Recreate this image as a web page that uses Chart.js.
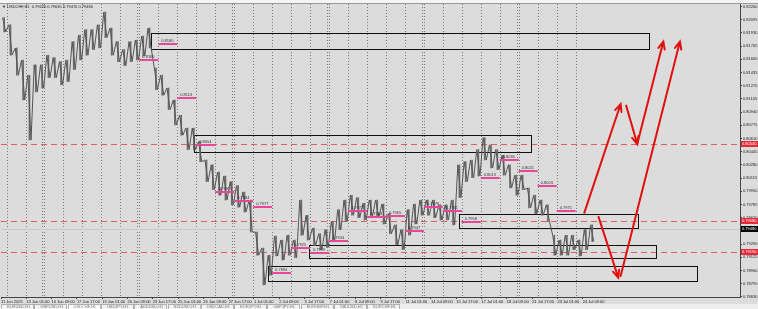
<!DOCTYPE html>
<html>
<head>
<meta charset="utf-8">
<script src="https://cdn.jsdelivr.net/npm/chart.js@4.4.1/dist/chart.umd.min.js"></script>
<style>
html, body { margin: 0; padding: 0; background: #dcdcdc; overflow: hidden; }
canvas { display: block; }
</style>
</head>
<body>
<canvas id="usdchfChart" width="758" height="309"></canvas>
<script>
// USDCHF H1 - price band, one high/low pair per 8 bars
var segHigh = [
  0.8212, 0.8203, 0.8174, 0.8159, 0.8140, 0.8153, 0.8153, 0.8165, 0.8162, 0.8157,
  0.8159, 0.8182, 0.8190, 0.8197, 0.8197, 0.8203, 0.8219, 0.8199, 0.8182, 0.8172,
  0.8182, 0.8184, 0.8189, 0.8199, 0.8149, 0.8140, 0.8124, 0.8109, 0.8090, 0.8074,
  0.8074, 0.8057, 0.8034, 0.8028, 0.8019, 0.8014, 0.8007, 0.8002, 0.7994, 0.7984,
  0.7944, 0.7924, 0.7915, 0.7939, 0.7934, 0.7940, 0.7934, 0.7984, 0.7965, 0.7949,
  0.7942, 0.7947, 0.7957, 0.7972, 0.7984, 0.7990, 0.7987, 0.7980, 0.7984, 0.7984,
  0.7979, 0.7967, 0.7953, 0.7947, 0.7972, 0.7979, 0.7984, 0.7984, 0.7984, 0.7978,
  0.7978, 0.7984, 0.8028, 0.8032, 0.8034, 0.8047, 0.8062, 0.8053, 0.8047, 0.8040,
  0.8028, 0.8015, 0.8015, 0.7999, 0.7990, 0.7984, 0.7978, 0.7940, 0.7934, 0.7940,
  0.7940, 0.7934, 0.7947, 0.7953
];
var segLow = [
  0.8194, 0.8165, 0.8140, 0.8109, 0.8059, 0.8119, 0.8124, 0.8137, 0.8137, 0.8128,
  0.8132, 0.8147, 0.8159, 0.8165, 0.8172, 0.8174, 0.8187, 0.8165, 0.8157, 0.8152,
  0.8157, 0.8159, 0.8164, 0.8174, 0.8122, 0.8115, 0.8097, 0.8078, 0.8065, 0.8047,
  0.8047, 0.8032, 0.8007, 0.7997, 0.7990, 0.7984, 0.7978, 0.7975, 0.7969, 0.7944,
  0.7915, 0.7878, 0.7890, 0.7914, 0.7909, 0.7915, 0.7912, 0.7940, 0.7934, 0.7927,
  0.7922, 0.7925, 0.7932, 0.7947, 0.7957, 0.7965, 0.7962, 0.7959, 0.7964, 0.7962,
  0.7954, 0.7942, 0.7928, 0.7922, 0.7940, 0.7954, 0.7965, 0.7965, 0.7962, 0.7959,
  0.7959, 0.7953, 0.7987, 0.8007, 0.8012, 0.8014, 0.8034, 0.8024, 0.8022, 0.8015,
  0.7999, 0.7990, 0.7997, 0.7974, 0.7967, 0.7965, 0.7957, 0.7915, 0.7915, 0.7915,
  0.7922, 0.7914, 0.7922, 0.7932
];

var timeLabels = [
  '11 Jun 2025', '13 Jun 01:00', '16 Jun 09:00', '17 Jun 17:00', '19 Jun 01:00',
  '20 Jun 09:00', '23 Jun 17:00', '25 Jun 01:00', '26 Jun 09:00', '27 Jun 17:00',
  '1 Jul 01:00', '2 Jul 09:00', '3 Jul 17:00', '7 Jul 01:00', '8 Jul 09:00',
  '9 Jul 17:00', '11 Jul 01:00', '14 Jul 09:00', '15 Jul 17:00', '17 Jul 01:00',
  '18 Jul 09:00', '21 Jul 17:00', '23 Jul 01:00', '24 Jul 09:00'
];
var priceTicks = [
  0.78630, 0.78795, 0.78960, 0.79125, 0.79290, 0.79455, 0.79620, 0.79785,
  0.79950, 0.80115, 0.80280, 0.80445, 0.80610, 0.80775, 0.80940, 0.81105,
  0.81270, 0.81435, 0.81600, 0.81765, 0.81930, 0.82095, 0.82260
];

// daily levels (pink marks), day number counted from 12 Jun
var dayLevelDay = [7, 8, 9, 10, 11, 12, 13, 14, 15, 16, 17, 18, 19, 20, 21, 22, 23, 24, 25, 26, 27, 28, 29];
var dayLevelValue = [
  0.8160, 0.8180, 0.8113, 0.8054, 0.7995, 0.7984, 0.7977, 0.7894, 0.7925, 0.7919,
  0.7934, 0.7972, 0.7964, 0.7965, 0.7947, 0.7976, 0.7971, 0.7958, 0.8013, 0.8035,
  0.8021, 0.8003, 0.7971
];

// rectangles (bar index / price)
var zoneFrom = [190, 244, 580, 390, 338];
var zoneTo = [820, 671, 806, 829, 881];
var zoneTop = [0.8193, 0.8065, 0.7967, 0.7928, 0.7902];
var zoneBottom = [0.8173, 0.8044, 0.7949, 0.7912, 0.7883];

var redLevels = [0.8054, 0.7958, 0.7919];
var lastPrice = 0.7948;

// hand drawn arrows (bar index / price)
var arrowFromBar = [738, 791, 805, 784, 756];
var arrowFromPrice = [0.7968, 0.8102, 0.8054, 0.7889, 0.7963];
var arrowToBar = [784, 805, 838, 859, 781];
var arrowToPrice = [0.8104, 0.8054, 0.8182, 0.8182, 0.7887];

var tabNames = ['EURUSD,H1', 'GBPUSD,H1', 'USDCHF,H1', 'USDJPY,H1', 'AUDUSD,H1', 'NZDUSD,H1',
  'USDCAD,H1', 'EURJPY,H1', 'GBPJPY,H1', 'EURGBP,H1', 'XAUUSD,H1', 'EURCHF,H1'];

var barsPerSeg = 8;
var barsPerDay = 24;
var firstDayBar = 7;
var dayCount = 31;
var barsPerLabel = 32;

var points = [];
var ranges = [];
for (var i = 0; i < segHigh.length; i++) {
  points.push({ x: i * barsPerSeg + 2, y: segHigh[i] });
  points.push({ x: i * barsPerSeg + 6, y: segLow[i] });
  ranges.push({ x: i * barsPerSeg + 4, y: [segLow[i], segHigh[i]] });
}

var tinyFont = { family: 'Liberation Sans', size: 4 };

function hline(ctx, x1, x2, y) {
  ctx.beginPath();
  ctx.moveTo(x1, y);
  ctx.lineTo(x2, y);
  ctx.stroke();
}

function arrow(ctx, x1, y1, x2, y2) {
  var ang = Math.atan2(y2 - y1, x2 - x1);
  var len = 8;
  ctx.beginPath();
  ctx.moveTo(x1, y1);
  ctx.lineTo(x2, y2);
  ctx.moveTo(x2 - len * Math.cos(ang - 0.42), y2 - len * Math.sin(ang - 0.42));
  ctx.lineTo(x2, y2);
  ctx.lineTo(x2 - len * Math.cos(ang + 0.42), y2 - len * Math.sin(ang + 0.42));
  ctx.stroke();
}

var mtExtras = {
  id: 'mtExtras',
  beforeDraw: function(chart) {
    var ctx = chart.ctx;
    ctx.save();
    ctx.fillStyle = '#dcdcdc';
    ctx.fillRect(0, 0, chart.width, chart.height);
    ctx.fillStyle = '#f4f4f4';
    ctx.fillRect(0, 0, chart.width, 3);
    ctx.fillStyle = '#9a9a9a';
    ctx.fillRect(0, 3, chart.width, 1);
    ctx.restore();
  },
  beforeDatasetsDraw: function(chart) {
    var ctx = chart.ctx, a = chart.chartArea;
    var xs = chart.scales.x, ys = chart.scales.y;
    ctx.save();
    ctx.beginPath();
    ctx.rect(a.left, a.top, a.right - a.left, a.bottom - a.top);
    ctx.clip();

    // period separators
    ctx.strokeStyle = '#7a7a7a';
    ctx.lineWidth = 1;
    ctx.setLineDash([1, 2]);
    for (var k = 0; k < dayCount; k++) {
      var px = Math.round(xs.getPixelForValue(firstDayBar + k * barsPerDay)) + 0.5;
      ctx.beginPath();
      ctx.moveTo(px, a.top);
      ctx.lineTo(px, a.bottom);
      if (k % 5 === 2) {
        ctx.moveTo(px - 2, a.top);
        ctx.lineTo(px - 2, a.bottom);
      }
      ctx.stroke();
    }

    // bid line
    ctx.setLineDash([]);
    ctx.strokeStyle = '#c8c8c8';
    hline(ctx, a.left, a.right, Math.round(ys.getPixelForValue(lastPrice)) + 0.5);

    // red levels
    ctx.strokeStyle = '#e25a62';
    ctx.setLineDash([6, 4]);
    redLevels.forEach(function(v) {
      hline(ctx, a.left, a.right, Math.round(ys.getPixelForValue(v)) + 0.5);
    });

    // zones
    ctx.setLineDash([]);
    ctx.strokeStyle = '#111';
    for (var z = 0; z < zoneFrom.length; z++) {
      var x1 = Math.round(xs.getPixelForValue(zoneFrom[z])) + 0.5;
      var x2 = Math.round(xs.getPixelForValue(zoneTo[z])) + 0.5;
      var y1 = Math.round(ys.getPixelForValue(zoneTop[z])) + 0.5;
      var y2 = Math.round(ys.getPixelForValue(zoneBottom[z])) + 0.5;
      ctx.strokeRect(x1, y1, x2 - x1, y2 - y1);
    }
    ctx.restore();
  },
  afterDatasetsDraw: function(chart) {
    var ctx = chart.ctx, a = chart.chartArea;
    var xs = chart.scales.x, ys = chart.scales.y;
    ctx.save();

    // daily level marks
    ctx.font = '4px "Liberation Sans"';
    ctx.textBaseline = 'bottom';
    for (var d = 0; d < dayLevelDay.length; d++) {
      var start = firstDayBar + dayLevelDay[d] * barsPerDay;
      var x1 = xs.getPixelForValue(start);
      var x2 = xs.getPixelForValue(start + barsPerDay);
      var y = Math.round(ys.getPixelForValue(dayLevelValue[d]));
      ctx.fillStyle = '#e8469a';
      ctx.fillRect(x1, y, x2 - x1, 2);
      ctx.fillStyle = '#333';
      ctx.fillText(dayLevelValue[d].toFixed(4), x1 + 3, y - 0.5);
    }

    // arrows
    ctx.strokeStyle = '#e01010';
    ctx.lineWidth = 2;
    ctx.lineCap = 'round';
    for (var r = 0; r < arrowFromBar.length; r++) {
      arrow(ctx,
        xs.getPixelForValue(arrowFromBar[r]), ys.getPixelForValue(arrowFromPrice[r]),
        xs.getPixelForValue(arrowToBar[r]), ys.getPixelForValue(arrowToPrice[r]));
    }
    ctx.restore();
  },
  afterDraw: function(chart) {
    var ctx = chart.ctx, a = chart.chartArea;
    var ys = chart.scales.y;
    ctx.save();
    ctx.font = '4px "Liberation Sans"';
    ctx.textBaseline = 'middle';

    // price tags on the axis
    function tag(v, bg) {
      var y = Math.round(ys.getPixelForValue(v));
      ctx.fillStyle = bg;
      ctx.fillRect(a.right + 1, y - 3, 17, 6);
      ctx.fillStyle = '#fff';
      ctx.fillText(v.toFixed(5), a.right + 2, y + 0.3);
    }
    redLevels.forEach(function(v) { tag(v, '#e8283a'); });
    tag(lastPrice, '#000');

    // header
    ctx.fillStyle = '#222';
    ctx.fillText('\u25BC USDCHF,H1  0.79620 0.79630 0.79470 0.79480', 2, 7);

    // symbol tabs
    var ty = chart.height - 5;
    ctx.fillStyle = '#eeeeee';
    ctx.fillRect(0, ty, chart.width, 5);
    ctx.strokeStyle = '#b0b0b0';
    ctx.lineWidth = 1;
    for (var t = 0; t < tabNames.length; t++) {
      var tx = 1 + t * 33.3;
      ctx.fillStyle = t === 2 ? '#ffffff' : '#f3f3f3';
      ctx.fillRect(tx, ty, 32, 5);
      ctx.strokeRect(Math.round(tx) + 0.5, ty + 0.5, 32, 5);
      ctx.fillStyle = '#777';
      ctx.fillText(tabNames[t], tx + 6, ty + 3);
    }
    ctx.restore();
  }
};

var ctx = document.getElementById('usdchfChart');
var usdchfChart = new Chart(ctx, {
  type: 'line',
  data: {
    datasets: [{
      label: 'USDCHF,H1',
      data: points,
      borderColor: '#555555',
      borderWidth: 1,
      pointRadius: 0,
      tension: 0,
      fill: false,
      order: 1
    }, {
      type: 'bar',
      label: 'range',
      data: ranges,
      backgroundColor: '#6a6a6a',
      borderWidth: 0,
      barThickness: 1,
      order: 2
    }]
  },
  options: {
    responsive: false,
    devicePixelRatio: 1,
    animation: false,
    events: [],
    layout: { padding: { left: 1, top: 4, right: 0, bottom: 0 } },
    plugins: { legend: { display: false }, tooltip: { enabled: false } },
    scales: {
      x: {
        type: 'linear',
        min: 0,
        max: 935,
        offset: false,
        afterBuildTicks: function(scale) {
          scale.ticks = timeLabels.map(function(t, i) { return { value: i * barsPerLabel }; });
        },
        afterFit: function(scale) { scale.height = 12; },
        ticks: {
          autoSkip: false,
          maxRotation: 0,
          align: 'start',
          padding: 0,
          color: '#222',
          font: tinyFont,
          callback: function(v, i) { return timeLabels[i]; }
        },
        grid: { drawOnChartArea: false, drawTicks: true, tickLength: 2, color: '#444', offset: false },
        border: { display: true, color: '#444' }
      },
      y: {
        position: 'right',
        min: 0.78628,
        max: 0.8229,
        afterBuildTicks: function(scale) {
          scale.ticks = priceTicks.map(function(v) { return { value: v }; });
        },
        afterFit: function(scale) { scale.width = 18; },
        ticks: {
          padding: 1,
          color: '#222',
          font: tinyFont,
          callback: function(v) { return v.toFixed(5); }
        },
        grid: { drawOnChartArea: false, drawTicks: true, tickLength: 2, color: '#444' },
        border: { display: true, color: '#444' }
      }
    }
  },
  plugins: [mtExtras]
});
</script>
</body>
</html>
